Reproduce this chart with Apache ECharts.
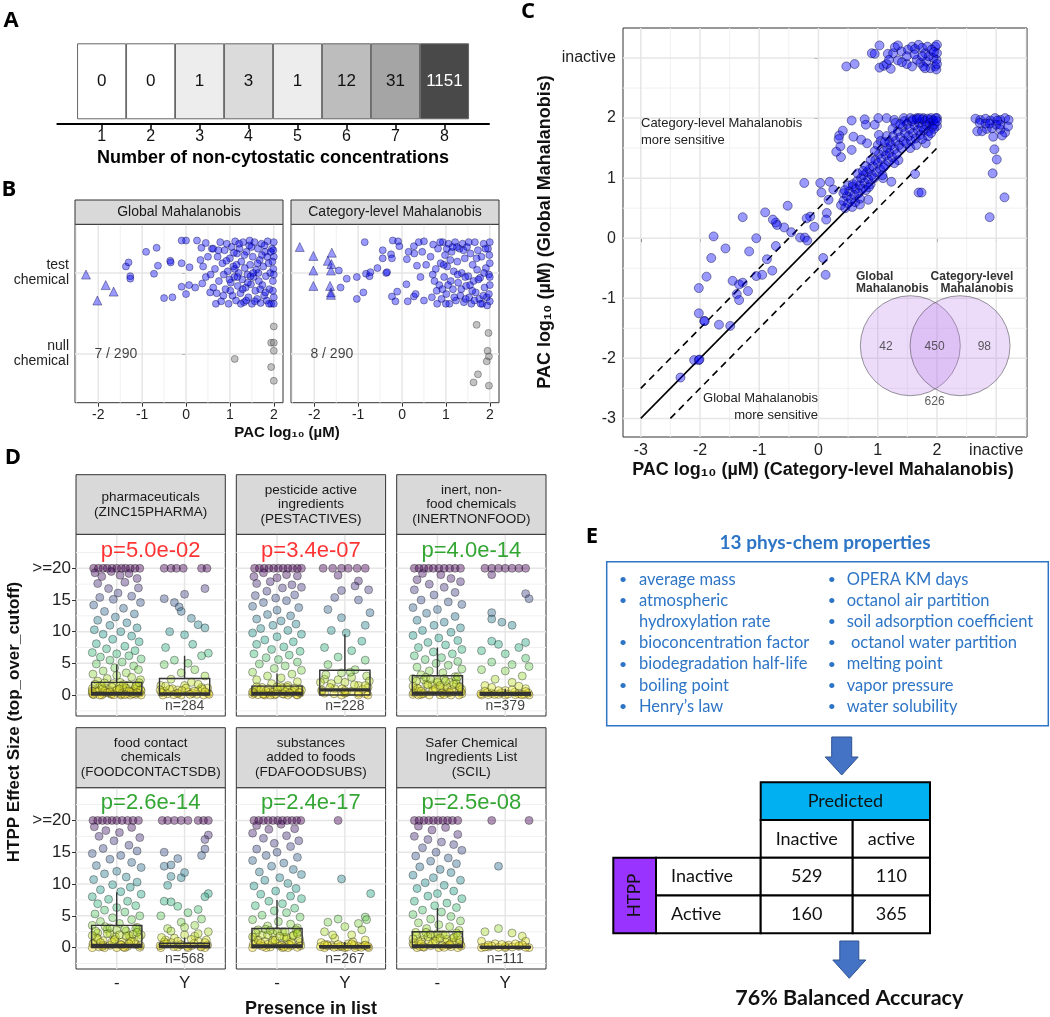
<!DOCTYPE html>
<html>
<head>
<meta charset="utf-8">
<script src="https://cdn.jsdelivr.net/npm/echarts@6/dist/echarts.min.js"></script>
<style>
  html, body { margin: 0; padding: 0; background: #fff; }
  #chart { width: 1050px; height: 1017px; }
</style>
</head>
<body>
<div id="chart"></div>
<script>
const FONT = '"Liberation Sans", Arial, sans-serif';
const EFONT = 'Lato, "Open Sans", sans-serif';

// ---------- A: non-cytostatic concentrations
const concLevels = [1, 2, 3, 4, 5, 6, 7, 8];
const concCounts = [0, 0, 1, 3, 1, 12, 31, 1151];

// ---------- B: PAC of test vs null chemicals
const bFacets = ['Global Mahalanobis', 'Category-level Mahalanobis'];
const bNullText = ['7 / 290', '8 / 290'];
const bGlobalTri = [-2.28,1.98, -1.83,1.85, -1.65,1.77, -2.02,1.66];
const bGlobalSparse = [-1.37,2.08, -1.31,2.13, -1.27,1.96, -1.27,1.93, -0.91,2.26, -0.67,2.31, -0.73,1.99, -0.64,2.09,
  -0.36,2.15, -0.35,2.13, -0.50,1.69, -0.31,1.70, -0.10,2.40, 0.00,2.40, -0.10,2.12, 0.08,2.07, -0.10,1.83, 0.07,1.85,
  0.00,1.74, 0.25,2.40, 0.35,2.31, 0.39,2.08, 0.37,1.87, 0.21,1.82, 0.45,2.37, 0.33,2.16, 0.55,1.76, 0.59,2.30,
  0.50,2.20, 0.45,1.95, 0.56,1.98, 0.62,1.82];
const bGlobalDense = [0.62,2.3, 0.66,2.05, 0.7,1.75, 0.72,2.2, 0.75,1.9, 0.78,2.38, 0.8,1.65, 0.83,2.12, 0.86,1.98,
  0.88,2.28, 0.9,1.8, 0.93,2.36, 0.95,2.02, 0.97,1.62, 1.0,2.18, 1.02,1.88, 1.04,2.32, 1.06,1.72, 1.08,2.08, 1.1,1.95,
  1.12,2.39, 1.14,1.66, 1.16,2.24, 1.18,1.84, 1.2,2.0, 1.22,2.3, 1.24,1.75, 1.26,2.14, 1.28,1.92, 1.3,2.38, 1.32,1.64,
  1.34,2.06, 1.36,1.82, 1.38,2.26, 1.4,1.98, 1.42,1.7, 1.44,2.34, 1.46,2.1, 1.48,1.86, 1.5,1.62, 1.52,2.2, 1.54,1.95,
  1.56,2.38, 1.58,1.78, 1.6,2.04, 1.62,1.68, 1.64,2.3, 1.66,1.9, 1.68,2.16, 1.7,1.63, 1.72,2.36, 1.74,1.85, 1.76,2.08,
  1.78,1.72, 1.8,2.26, 1.82,1.96, 1.84,1.66, 1.86,2.39, 1.88,2.12, 1.9,1.8, 1.92,2.0, 1.94,1.62, 1.96,2.3, 1.98,1.9,
  2.0,2.2, 2.0,1.7, 1.99,2.05, 2.0,2.38, 1.98,1.78, 2.0,1.98, 1.99,2.28, 2.0,1.62, 1.97,2.14,
  0.68,1.62, 0.74,2.28, 0.85,1.72, 0.92,2.15, 1.01,1.78, 1.09,2.25, 1.17,1.95, 1.25,1.62, 1.33,2.22, 1.41,1.88,
  1.49,2.32, 1.57,1.65, 1.65,2.0, 1.73,2.22, 1.81,1.76, 1.89,1.62, 1.11,2.05, 1.29,1.8, 1.47,1.96, 1.63,2.12,
  1.79,2.34, 0.99,1.92, 1.21,2.36, 1.37,1.66, 1.53,2.0, 1.69,1.8, 1.85,2.2, 1.93,2.26, 1.45,2.4, 1.15,2.1];
const bGlobalNull = [2.0,1.34, 1.94,1.14, 2.0,1.14, 2.0,1.04, 1.11,0.94, 1.94,0.84, 2.0,0.67];
const bCatTri = [-2.33,2.32, -2.02,2.21, -1.60,2.25, -1.69,2.15, -1.61,2.11, -2.02,2.03, -1.62,2.03, -2.02,1.84,
  -1.64,1.84, -1.62,1.76, -1.62,1.73];
const bCatSparse = [-1.44,2.03, -1.40,1.82, -1.26,1.93, -1.03,1.95, -1.03,1.68, -0.88,1.76, -0.85,2.38, -0.82,1.99,
  -0.74,1.96, -0.72,2.01, -0.56,2.06, -0.44,2.28, -0.44,2.18, -0.36,2.00, -0.34,2.01, -0.25,2.23, -0.23,2.18,
  -0.23,1.71, -0.15,1.65, -0.11,1.77, -0.21,2.40, -0.09,2.39, -0.06,2.33, 0.10,1.86, 0.11,2.17, 0.15,2.26, 0.27,2.33,
  0.28,2.24, 0.27,1.71, 0.31,1.74, 0.34,2.09, 0.38,2.38, 0.46,2.26, 0.50,2.39, 0.13,1.65, 0.50,1.66, 0.42,1.95, 0.55,2.1];
const bCatDense = [0.65,2.2, 0.68,1.7, 0.71,2.35, 0.74,1.9, 0.77,2.05, 0.8,1.62, 0.82,2.3, 0.85,1.85, 0.88,2.12,
  0.9,1.68, 0.93,2.38, 0.96,1.95, 0.98,2.22, 1.01,1.74, 1.03,2.08, 1.06,2.36, 1.08,1.62, 1.11,1.9, 1.13,2.26, 1.16,1.8,
  1.18,2.02, 1.21,2.38, 1.23,1.66, 1.26,2.14, 1.28,1.88, 1.31,2.3, 1.33,1.72, 1.36,2.0, 1.38,2.36, 1.41,1.64, 1.43,2.18,
  1.46,1.84, 1.48,2.32, 1.51,1.96, 1.53,1.7, 1.56,2.24, 1.58,1.62, 1.61,2.1, 1.63,1.9, 1.66,2.38, 1.68,1.76, 1.71,2.04,
  1.73,2.28, 1.76,1.68, 1.78,1.94, 1.81,2.2, 1.83,1.62, 1.86,2.36, 1.88,1.82, 1.91,2.06, 1.93,1.7, 1.96,2.3, 1.98,1.98,
  2.0,2.12, 2.0,1.65, 2.0,1.85, 2.0,2.38, 1.99,2.22, 1.98,1.74, 2.0,1.95,
  0.7,1.98, 0.79,1.78, 0.87,2.38, 0.95,2.1, 1.0,1.62, 1.1,2.16, 1.19,1.7, 1.27,1.98, 1.35,1.8, 1.44,1.95, 1.52,2.38,
  1.6,1.78, 1.7,2.18, 1.79,1.62, 1.87,2.0, 1.94,1.6, 1.05,1.85, 1.25,2.32, 1.4,2.28, 1.55,1.85, 1.74,1.92, 1.9,2.3,
  1.15,2.32, 1.45,1.68, 1.65,1.66, 1.85,1.72, 0.92,1.8, 1.02,2.3];
const bCatNull = [1.70,1.36, 1.97,1.26, 1.95,1.04, 1.98,0.97, 1.93,0.91, 1.73,0.75, 1.63,0.65, 1.98,0.61];

// ---------- C: PAC global vs category-level (3 = inactive)
const cInactiveRow = [0.47,2.86, 0.61,2.90, 0.90,3.08, 0.95,3.07, 1.03,3.21, 1.03,2.84, 1.10,2.87, 1.15,2.90, 1.22,2.82,
  1.17,3.07, 1.26,3.08, 1.29,3.18, 1.34,3.21, 1.40,3.11, 1.34,2.96, 1.41,2.93, 1.49,2.90, 1.51,3.14, 1.58,3.19, 1.63,3.15,
  1.69,3.22, 1.75,3.17, 1.80,3.08, 1.84,3.19, 1.66,2.97, 1.72,2.92, 1.77,2.86, 1.82,2.94, 1.89,2.83, 1.97,2.86, 1.99,2.97,
  2.0,3.08, 1.97,3.19, 2.0,3.22, 1.94,3.0, 1.58,2.86, 1.49,3.03, 1.19,2.97, 1.86,3.03, 1.99,2.81, 1.91,3.14, 1.75,3.03,
  1.62,3.06, 1.80,2.83, 1.95,3.1, 2.0,2.9];
const cInactiveCol = [2.65,1.99, 2.73,1.97, 2.82,1.99, 2.90,1.96, 2.98,2.0, 3.07,1.97, 3.15,2.0, 3.21,1.97, 2.68,1.78,
  2.76,1.78, 2.84,1.82, 2.93,1.83, 3.0,1.89, 3.07,1.81, 3.15,1.76, 2.95,1.69, 3.10,1.71, 2.82,1.91, 3.07,1.89, 3.2,1.86,
  2.97,1.48, 3.01,1.31, 2.94,1.08, 3.14,0.68, 2.89,0.35, 2.72,1.92, 3.02,1.96, 2.89,1.91];
const cSparse = [0.56,1.96, 0.78,1.98, 0.80,1.89, 0.59,1.69, 0.41,1.79, 0.35,1.71, 0.34,1.65, 0.37,1.53, 0.38,1.35,
  0.30,1.44, 0.56,1.47, 0.72,1.64, 0.82,1.58, 0.95,1.89, 1.01,2.0, 1.15,2.0, 1.28,1.97, 1.44,2.0, 1.55,2.0, 1.66,2.0,
  1.77,2.0, 1.89,1.97, 2.0,2.0, 2.0,1.87, 1.81,1.58, 1.63,1.07, 1.69,0.76, 1.74,0.76, 1.23,0.94, 1.09,1.0, 0.84,0.64,
  0.70,0.56, 0.58,0.86, 0.42,0.75, 0.25,0.81, 0.19,0.94, 0.03,0.92, 0.05,0.76, -0.24,0.92, 0.17,0.64, 0.14,0.42,
  0.13,0.31, -0.07,0.19, -0.14,0.36, -0.20,0.33, -0.31,0.01, -0.23,0.01, -0.19,-0.04, -0.46,0.10, -0.58,0.18,
  -0.52,0.54, -0.72,0.26, -0.70,0.22, -0.77,0.31, -0.90,0.43, -1.05,0.0, -1.28,0.35, -1.17,-0.22, -1.57,-0.17,
  -1.77,0.03, -1.81,-0.33, -0.72,-0.13, -0.87,-0.35, 0.08,-0.33, 0.12,-0.61, -1.89,-0.64, -2.02,-0.83, -1.45,-0.71,
  -1.34,-0.77, -1.28,-0.74, -1.38,-0.93, -1.34,-1.03, -1.19,-0.88, -1.05,-0.63, -0.95,-0.61, -0.78,-0.54,
  -2.02,-1.25, -1.92,-1.38, -1.93,-1.38, -1.68,-1.44, -1.49,-1.46, -2.10,-2.03, -2.02,-2.03, -2.01,-2.02, -2.33,-2.32];
const cDense = [0.38,0.55, 0.42,0.62, 0.45,0.5, 0.48,0.7, 0.5,0.58, 0.52,0.78, 0.55,0.65, 0.57,0.52, 0.6,0.72, 0.44,0.8,
  0.5,0.88, 0.58,0.9, 0.62,0.6, 0.63,0.82, 0.65,0.95, 0.68,0.75, 0.7,0.88, 0.72,1.0, 0.74,0.82, 0.76,1.05, 0.78,0.92,
  0.8,0.8, 0.82,1.1, 0.84,0.98, 0.86,1.15, 0.88,0.9, 0.9,1.05, 0.66,1.08, 0.7,0.66, 0.75,1.12, 0.8,1.2, 0.85,0.85,
  0.92,1.2, 0.94,1.0, 0.96,1.3, 0.98,1.1, 1.0,1.25, 1.02,1.4, 1.04,1.15, 1.06,1.32, 1.08,1.05, 1.1,1.45, 1.12,1.22,
  1.14,1.38, 1.16,1.5, 1.18,1.28, 1.2,1.42, 0.95,1.45, 1.0,1.55, 1.05,1.62, 1.1,1.18, 1.15,1.7, 1.2,1.6,
  1.22,1.55, 1.24,1.35, 1.26,1.7, 1.28,1.48, 1.3,1.62, 1.32,1.4, 1.34,1.78, 1.36,1.55, 1.38,1.68, 1.4,1.5, 1.42,1.85,
  1.44,1.62, 1.46,1.75, 1.48,1.58, 1.5,1.9, 1.25,1.82, 1.3,1.92, 1.35,1.3, 1.45,1.95, 1.28,1.25,
  1.52,1.7, 1.54,1.82, 1.56,1.62, 1.58,1.95, 1.6,1.75, 1.62,1.88, 1.64,1.66, 1.66,1.98, 1.68,1.8, 1.7,1.92, 1.72,1.72,
  1.74,1.85, 1.76,1.98, 1.78,1.8, 1.8,1.95, 1.55,1.5, 1.65,1.55, 1.75,1.65,
  1.82,1.88, 1.84,1.99, 1.86,1.78, 1.88,1.92, 1.9,2.0, 1.92,1.85, 1.94,1.96, 1.96,1.9, 1.98,2.0, 2.0,1.95, 1.85,1.7,
  1.95,1.82, 1.9,1.75, 1.12,1.6, 1.38,1.9, 1.6,1.98, 0.88,1.3, 1.02,1.72, 1.7,2.0];
const cRefOffsets = [0, 0.5, -0.5];
const cVennSets = ['Global\nMahalanobis', 'Category-level\nMahalanobis'];
const cVennCounts = [42, 450, 98, 626]; // only global, both, only category, neither

// ---------- D: HTPP effect size by presence in list
const dLists = [
  'pharmaceuticals\n(ZINC15PHARMA)', 'pesticide active\ningredients\n(PESTACTIVES)', 'inert, non-\nfood chemicals\n(INERTNONFOOD)',
  'food contact\nchemicals\n(FOODCONTACTSDB)', 'substances\nadded to foods\n(FDAFOODSUBS)', 'Safer Chemical\nIngredients List\n(SCIL)'];
const dPText = ['p=5.0e-02', 'p=3.4e-07', 'p=4.0e-14', 'p=2.6e-14', 'p=2.4e-17', 'p=2.5e-08'];
const dPColor = ['#ff0000', '#ff0000', '#009000', '#009000', '#009000', '#009000'];
const dNinList = [284, 228, 379, 568, 267, 111];
const dGroups = ['-', 'Y'];
// [lower whisker, q1, median, q3, upper whisker]
const dBoxMinus = [[0,0,0.25,2.0,4.8], [0,0,0.25,1.4,3.4], [0,0,0.3,3.05,7.5], [0,0,0.35,3.5,8.7], [0,0,0.3,3.0,7.5], [0,0,0.3,2.5,6.2]];
const dBoxY = [[0,0,0.2,2.6,6.2], [0,0,0.8,3.9,9.6], [0,0,0.15,0.4,1.0], [0,0,0.2,0.7,1.6], [0,0,0.1,0.3,0.9], [0,0,0.05,0.2,0.45]];
// jittered points: [offset from group, effect size]
const pharmaMinus = [-0.34,20, -0.27,20, -0.2,20, -0.14,20, -0.07,20, 0,20, 0.07,20, 0.13,20, 0.2,20, 0.27,20, 0.34,20,
  -0.32,19.3, -0.22,18.7, -0.08,19.5, 0.05,18.9, 0.18,19.2, 0.3,18.4, -0.28,17.6, 0.12,17.8, 0.32,16.9,
  -0.12,16.8, 0.02,16.1, -0.25,15.4, 0.22,15.6, -0.05,15.1, 0.35,14.6, -0.34,14.2, 0.1,13.7, -0.18,13.2, 0.26,12.8,
  -0.02,12.3, -0.28,11.8, 0.15,11.4, -0.1,11.0, 0.3,10.6, -0.33,10.3, 0.06,10.0, -0.2,9.6, 0.22,9.3, -0.06,8.8,
  0.33,8.4, -0.3,8.1, 0.12,7.7, -0.15,7.3, 0.27,7.0, -0.36,6.7, 0.0,6.5, 0.18,6.2, -0.24,6.0, 0.36,5.7,
  -0.1,5.5, 0.08,5.2, -0.3,4.9, 0.25,4.6, -0.03,4.3, 0.32,4.0, -0.2,3.8, 0.14,3.5, -0.35,3.3, 0.0,3.1,
  0.22,2.8, -0.14,2.6, 0.35,2.4, -0.28,2.2, 0.05,2.0, -0.05,1.8, 0.18,1.6, -0.22,1.4, 0.3,1.2, -0.36,1.0,
  0.1,0.9, -0.12,0.7, 0.24,0.6, -0.3,0.5, 0.0,0.4, 0.34,0.3, -0.2,0.25, 0.15,0.2, -0.08,0.1, 0.28,0.1, -0.34,0.05,
  0.06,0.0, -0.22,0.0, 0.2,0.0, 0.36,0.0, -0.3,0.8, -0.16,1.1, -0.02,0.6, 0.12,1.2, 0.26,0.9, -0.24,1.5, 0.04,1.4,
  0.3,1.6, -0.36,0.3, -0.08,0.2, 0.2,0.45, 0.36,0.7, -0.18,0.6, 0.08,0.3];
const pharmaMinusBand = [-0.35,0.15, -0.28,0.55, -0.21,0.95, -0.14,0.35, -0.07,1.25, 0.0,0.75, 0.07,0.15, 0.14,1.05,
  0.21,0.45, 0.28,1.35, 0.35,0.85, -0.32,1.7, -0.18,1.9, -0.04,0.05, 0.1,1.65, 0.24,0.2, 0.33,1.95, -0.25,0.0,
  -0.1,0.45, 0.04,0.95, 0.18,0.6, 0.3,0.35, -0.36,0.6, 0.12,0.05];
const pharmaY = [-0.3,20, -0.2,20, -0.12,20, -0.02,20, 0.25,20, 0.33,20, 0.3,16.8, -0.3,15.2, -0.15,14.6, -0.08,13.9,
  0.0,15.9, 0.1,12.1, -0.05,13.2, 0.2,11.1, 0.3,10.6, -0.22,10.0, 0.0,9.5, 0.12,8.0, -0.28,7.5, 0.35,6.6, 0.25,6.2,
  -0.15,5.5, 0.05,5.0, -0.3,4.8, 0.15,4.0, -0.05,3.5, 0.3,3.0, -0.2,2.5, 0.1,2.0, -0.35,1.5, 0.25,1.2, -0.1,0.8,
  0.05,0.5, 0.35,0.3, -0.25,0.2, 0.18,0.1, -0.05,0.0, 0.28,0.0, -0.32,0.0, -0.18,1.0, 0.0,1.5, 0.2,0.7, -0.3,0.6,
  0.12,0.3, 0.34,1.1, -0.1,0.2];
const pharmaYBand = [-0.34,0.4, -0.22,0.9, -0.1,0.3, 0.02,1.1, 0.14,0.6, 0.26,0.95, 0.36,0.1, -0.28,1.4, -0.04,0.7,
  0.2,1.7, 0.08,0.1, -0.16,0.05, 0.3,0.5, -0.36,0.8];
const pestMinus = [-0.33,20, -0.26,20, -0.19,20, -0.12,20, -0.05,20, 0.02,20, 0.09,20, 0.16,20, 0.23,20, 0.3,20, 0.36,20,
  -0.34,18.7, -0.2,19.3, 0.0,18.5, 0.14,19.0, 0.3,18.8, -0.3,17.6, -0.1,17.9, 0.22,17.4, 0.36,17.0, -0.15,16.4, 0.08,16.9,
  -0.32,15.7, -0.02,15.3, 0.26,15.8, -0.2,14.6, 0.14,14.9, -0.36,14.0, 0.32,13.8, 0.0,13.4, -0.14,12.7, 0.2,12.5,
  -0.3,12.0, 0.06,11.7, -0.06,11.0, 0.28,11.2, -0.24,10.5, 0.16,10.2, -0.36,9.8, 0.36,9.6, 0.0,9.2, -0.18,8.7,
  0.24,8.4, -0.3,8.0, 0.1,7.6, -0.08,7.2, 0.34,6.9, -0.34,6.5, 0.18,6.3, -0.16,5.9, 0.02,5.6, 0.3,5.2,
  -0.26,4.9, 0.12,4.6, -0.04,4.2, 0.36,3.9, -0.36,3.6, 0.22,3.3, -0.14,3.0, 0.06,2.7, -0.3,2.4, 0.3,2.1,
  -0.08,1.8, 0.16,1.5, -0.22,1.2, 0.34,1.0, 0.0,0.8, -0.34,0.6, 0.24,0.4, -0.12,0.3, 0.1,0.15, -0.28,0.05, 0.3,0.0,
  -0.04,0.0, 0.16,0.0, -0.18,0.0, -0.3,1.0, -0.1,0.5, 0.08,1.1, 0.26,0.7, -0.2,0.2, 0.34,0.3, 0.0,1.3, -0.36,0.1];
const pestMinusBand = [-0.34,0.3, -0.27,0.7, -0.2,0.1, -0.13,1.0, -0.06,0.45, 0.01,0.9, 0.08,0.2, 0.15,1.2, 0.22,0.6,
  0.29,0.05, 0.36,0.8, -0.3,1.3, -0.16,0.6, -0.02,0.15, 0.12,0.55, 0.26,1.1, -0.24,0.85, 0.05,1.35, 0.33,0.4, -0.1,0.0,
  0.19,0.3, -0.36,0.5];
const pestY = [-0.32,20, -0.18,20, -0.05,20, 0.05,20, 0.18,20, 0.3,20, -0.1,18.9, 0.2,18.0, 0.15,17.2, -0.05,16.5,
  0.35,16.6, -0.15,15.4, 0.2,15.0, -0.25,13.5, 0.37,13.0, -0.05,12.2, 0.3,11.0, -0.2,10.2, 0.02,9.8, 0.25,8.5,
  -0.3,7.5, 0.1,7.0, -0.1,6.0, 0.3,5.5, -0.25,4.8, 0.15,4.0, -0.05,3.5, 0.32,3.0, -0.3,2.5, 0.0,2.0, 0.2,1.5,
  -0.15,1.0, 0.1,0.6, -0.3,0.3, 0.3,0.2, -0.05,0.0, 0.2,0.0, -0.2,1.8, 0.1,2.8, 0.34,1.2, -0.34,0.8, 0.0,0.3];
const pestYBand = [-0.34,0.6, -0.22,1.2, -0.1,2.4, 0.02,0.4, 0.14,1.6, 0.26,0.9, 0.36,2.2, -0.28,3.2, -0.04,1.0,
  0.2,0.3, 0.08,3.6, -0.16,0.2, 0.3,1.5, -0.36,2.0, 0.0,0.7, 0.34,0.0];
const inertMinus = [-0.34,20, -0.27,20, -0.2,20, -0.13,20, -0.06,20, 0.02,20, 0.1,20, 0.18,20, 0.26,20, 0.34,20,
  -0.22,19.2, 0.05,19.0, -0.3,18.2, 0.2,18.4, 0.34,17.9, -0.12,17.5, 0.1,17.0, -0.34,16.6, 0.26,16.2, -0.05,15.8,
  -0.24,15.0, 0.16,14.7, 0.36,14.3, -0.36,13.8, 0.0,13.5, -0.16,12.9, 0.26,12.4, -0.3,11.8, 0.1,11.5, -0.05,11.0,
  0.34,10.6, -0.22,10.2, 0.2,9.9, -0.36,9.4, 0.02,9.0, 0.3,8.6, -0.14,8.3, 0.12,7.9, -0.28,7.5, 0.36,7.2,
  -0.06,6.8, 0.22,6.5, -0.34,6.2, 0.06,5.9, -0.18,5.6, 0.3,5.3, -0.02,5.0, 0.16,4.7, -0.3,4.4, 0.36,4.1,
  -0.12,3.8, 0.08,3.5, -0.24,3.2, 0.26,2.9, -0.36,2.6, 0.0,2.3, 0.18,2.0, -0.16,1.7, 0.32,1.4, -0.3,1.1,
  0.1,0.9, -0.06,0.7, 0.24,0.5, -0.2,0.35, 0.36,0.2, -0.36,0.1, 0.04,0.05, 0.2,0.0, -0.12,0.0, -0.28,0.0, 0.32,0.0,
  -0.2,2.4, 0.05,1.2, 0.28,1.8, -0.32,0.7, 0.14,0.4, -0.08,1.6, 0.36,0.9, -0.24,0.1, 0.1,2.6];
const inertMinusBand = [-0.35,0.4, -0.28,1.0, -0.21,0.2, -0.14,1.6, -0.07,0.7, 0.0,2.0, 0.07,0.3, 0.14,1.3, 0.21,0.8,
  0.28,2.4, 0.35,0.5, -0.31,2.2, -0.17,2.8, -0.03,1.0, 0.1,0.05, 0.24,1.7, 0.33,1.2, -0.24,0.6, -0.1,2.5, 0.04,1.5,
  0.18,0.4, 0.3,2.9, -0.36,1.4, 0.12,2.2];
const inertY = [-0.3,20, -0.2,20, -0.1,20, 0.0,20, 0.1,20, 0.2,20, 0.3,20, -0.2,19.0, 0.3,16.0, 0.35,15.2,
  -0.2,13.0, -0.2,12.0, -0.05,11.5, 0.1,11.0, -0.2,8.5, -0.1,8.0, 0.3,8.3, 0.2,7.5, -0.35,7.0, 0.0,6.5, 0.3,5.8,
  -0.2,5.2, 0.1,4.8, 0.35,4.5, -0.35,4.0, 0.0,3.8, 0.25,3.0, -0.15,2.5, 0.1,2.0, -0.3,1.5, 0.3,1.0, 0.0,0.7,
  -0.2,0.3, 0.2,0.2, -0.35,0.0, 0.0,0.0, 0.35,0.0, -0.1,0.1, 0.15,0.05, -0.25,0.05, 0.28,0.1];
const inertYBand = [-0.36,0.2, -0.26,0.4, -0.16,0.1, -0.06,0.35, 0.04,0.15, 0.14,0.45, 0.24,0.05, 0.34,0.3, -0.3,0.6,
  -0.1,0.7, 0.1,0.8, 0.3,0.55, 0.2,1.4, -0.2,1.2];
const foodMinus = [-0.35,20, -0.28,20, -0.21,20, -0.14,20, -0.07,20, 0.0,20, 0.08,20, 0.16,20, 0.24,20, 0.32,20,
  -0.33,19.0, -0.16,18.4, 0.04,18.1, 0.22,18.9, 0.34,17.3, -0.26,17.5, -0.04,16.8, 0.18,16.1, -0.2,15.6, 0.3,15.2,
  -0.36,14.8, 0.06,14.5, -0.1,13.9, 0.22,13.4, -0.3,12.9, 0.36,12.6, 0.0,12.0, -0.18,11.6, 0.14,11.1, -0.34,10.7,
  0.3,10.3, -0.06,9.9, 0.2,9.5, -0.24,9.1, 0.06,8.8, 0.36,8.4, -0.36,8.0, -0.12,7.6, 0.16,7.3, -0.28,6.9,
  0.28,6.6, 0.0,6.3, -0.18,5.9, 0.12,5.6, -0.32,5.3, 0.34,5.0, -0.06,4.7, 0.22,4.4, -0.24,4.1, 0.04,3.8,
  -0.36,3.5, 0.3,3.2, -0.14,2.9, 0.14,2.6, -0.28,2.3, 0.36,2.0, -0.02,1.7, 0.2,1.4, -0.2,1.1, 0.08,0.9,
  -0.34,0.7, 0.28,0.5, -0.1,0.35, 0.16,0.2, -0.26,0.1, 0.34,0.05, 0.0,0.0, -0.18,0.0, 0.12,0.0, -0.36,0.0,
  -0.1,2.2, 0.26,1.0, -0.3,1.6, 0.06,0.5, 0.32,2.8, -0.2,0.4, 0.18,1.9, -0.04,1.1];
const foodMinusBand = [-0.35,0.6, -0.28,1.4, -0.21,0.2, -0.14,2.2, -0.07,0.9, 0.0,2.8, 0.07,0.4, 0.14,1.8, 0.21,1.0,
  0.28,3.0, 0.35,0.3, -0.31,2.6, -0.17,3.3, -0.03,1.3, 0.1,0.1, 0.24,2.1, 0.33,1.6, -0.24,0.8, -0.1,3.1, 0.04,2.0,
  0.18,0.6, 0.3,2.4, -0.36,1.9, 0.12,2.9];
const foodY = [-0.33,20, -0.25,20, -0.15,20, -0.05,20, 0.05,20, 0.2,20, 0.28,20, 0.35,20, 0.35,17.7, 0.3,17.0,
  -0.3,15.0, 0.3,15.5, 0.25,14.5, -0.1,14.0, -0.3,12.8, -0.2,13.0, -0.05,11.0, 0.0,11.8, -0.2,11.2, -0.25,9.8,
  0.35,8.5, 0.3,8.0, -0.3,7.3, -0.2,7.2, -0.1,6.5, 0.2,6.0, 0.05,5.5, -0.35,5.0, 0.25,4.5, -0.05,4.0, 0.15,3.5,
  -0.25,3.0, 0.35,2.5, 0.0,2.0, -0.15,1.5, 0.2,1.0, -0.3,0.6, 0.1,0.3, -0.1,0.1, 0.3,0.0, -0.35,0.0, 0.05,0.0,
  -0.2,0.8, 0.15,1.8, 0.32,1.2, -0.05,0.5, 0.24,0.2, -0.28,1.2];
const foodYBand = [-0.36,0.3, -0.26,0.6, -0.16,0.15, -0.06,0.45, 0.04,0.2, 0.14,0.65, 0.24,0.1, 0.34,0.4, -0.3,0.9,
  -0.1,1.0, 0.1,1.3, 0.3,0.8, 0.2,2.2, -0.2,2.6, 0.0,3.2, -0.34,1.6];
const fdaMinus = [-0.34,20, -0.27,20, -0.2,20, -0.13,20, -0.06,20, 0.01,20, 0.08,20, 0.15,20, 0.22,20, 0.29,20, 0.35,20,
  -0.3,19.2, -0.12,18.6, 0.06,19.4, 0.26,18.7, -0.36,18.0, 0.14,17.6, -0.2,17.2, 0.32,16.8, -0.04,16.4, 0.2,15.9,
  -0.3,15.5, 0.0,15.0, -0.16,14.5, 0.3,14.2, -0.36,13.7, 0.1,13.3, -0.08,12.8, 0.24,12.3, -0.26,11.9, 0.36,11.5,
  0.04,11.0, -0.18,10.6, 0.16,10.1, -0.34,9.7, 0.28,9.3, -0.02,8.9, -0.24,8.4, 0.2,8.1, 0.36,7.7, -0.12,7.3,
  0.08,6.9, -0.32,6.6, 0.26,6.2, -0.04,5.8, 0.14,5.5, -0.22,5.1, 0.34,4.8, -0.36,4.4, 0.02,4.1, 0.2,3.7,
  -0.14,3.4, 0.3,3.1, -0.28,2.8, 0.08,2.5, -0.06,2.2, 0.24,1.9, -0.34,1.6, 0.14,1.3, -0.18,1.0, 0.34,0.8,
  0.0,0.6, -0.26,0.4, 0.2,0.25, -0.1,0.1, 0.3,0.05, -0.36,0.0, 0.08,0.0, -0.16,0.0, 0.16,0.0,
  -0.22,2.0, 0.1,1.6, 0.3,2.4, -0.06,1.2, -0.32,0.8, 0.22,0.6, 0.04,0.3, -0.14,0.5];
const fdaMinusBand = [-0.35,0.5, -0.28,1.2, -0.21,0.2, -0.14,2.0, -0.07,0.8, 0.0,2.6, 0.07,0.35, 0.14,1.6, 0.21,0.9,
  0.28,2.8, 0.35,0.3, -0.31,2.3, -0.17,2.9, -0.03,1.2, 0.1,0.1, 0.24,1.9, 0.33,1.4, -0.24,0.7, -0.1,2.7, 0.04,1.8,
  0.18,0.5, 0.3,2.2, -0.36,1.7, 0.12,2.5];
const fdaY = [-0.1,20, -0.05,10.8, 0.38,8.5, 0.3,4.8, -0.1,4.5, -0.25,4.0, 0.2,3.8, 0.0,3.3, -0.3,2.5, 0.1,2.0, 0.25,2.8,
  -0.15,1.5, 0.3,1.2, -0.35,0.8, 0.05,0.6, -0.2,0.3, 0.2,0.2, -0.1,0.1, 0.35,0.0, -0.3,0.0, 0.0,0.0, 0.15,0.0,
  0.32,4.4, -0.18,2.0, 0.12,0.9, -0.26,0.5, 0.28,0.3, -0.04,0.15];
const fdaYBand = [-0.36,0.15, -0.26,0.3, -0.16,0.05, -0.06,0.25, 0.04,0.1, 0.14,0.35, 0.24,0.05, 0.34,0.2, -0.3,0.45,
  -0.1,0.5, 0.1,0.6, 0.3,0.4];
const scilMinus = [-0.34,20, -0.27,20, -0.2,20, -0.13,20, -0.06,20, 0.01,20, 0.08,20, 0.15,20, 0.22,20, 0.3,20,
  -0.28,19.1, -0.08,18.5, 0.12,18.9, 0.3,17.8, -0.34,17.5, -0.14,17.0, 0.06,16.6, 0.24,16.2, -0.22,15.7, 0.36,15.3,
  -0.02,15.0, -0.32,14.4, 0.16,14.1, -0.1,13.6, 0.28,13.2, -0.26,12.7, 0.04,12.3, 0.2,11.8, -0.36,11.4, -0.06,11.0,
  0.34,10.6, -0.18,10.2, 0.1,9.8, -0.3,9.3, 0.24,8.9, 0.0,8.5, -0.14,8.1, 0.36,7.7, -0.34,7.3, 0.14,7.0,
  -0.04,6.6, 0.28,6.3, -0.22,5.9, 0.06,5.6, -0.36,5.2, 0.2,4.9, -0.1,4.5, 0.34,4.2, -0.28,3.9, 0.02,3.6,
  0.18,3.3, -0.16,3.0, 0.32,2.7, -0.32,2.4, 0.08,2.1, -0.04,1.8, 0.24,1.5, -0.24,1.2, 0.12,0.9, -0.36,0.7,
  0.34,0.5, -0.1,0.3, 0.2,0.15, -0.2,0.05, 0.02,0.0, 0.3,0.0, -0.3,0.0, -0.12,1.0, 0.16,0.4, -0.26,0.2, 0.28,1.1,
  0.0,1.4, -0.2,2.0];
const scilMinusBand = [-0.35,0.4, -0.28,1.0, -0.21,0.15, -0.14,1.7, -0.07,0.7, 0.0,2.2, 0.07,0.3, 0.14,1.3, 0.21,0.8,
  0.28,2.3, 0.35,0.25, -0.31,1.9, -0.17,2.4, -0.03,1.0, 0.1,0.05, 0.24,1.6, 0.33,1.2, -0.24,0.6, -0.1,2.1, 0.04,1.5,
  0.18,0.45, 0.3,1.9, -0.36,1.4, 0.12,2.0];
const scilY = [-0.2,20, 0.35,20, -0.1,12.8, -0.3,2.5, -0.1,3.0, 0.1,2.3, 0.25,1.8, 0.3,1.0, -0.35,1.0, -0.15,0.6,
  0.05,0.4, 0.2,0.2, -0.25,0.1, 0.0,0.0, 0.35,0.0, -0.35,0.0];
const scilYBand = [-0.3,0.1, -0.2,0.25, -0.1,0.05, 0.0,0.2, 0.1,0.1, 0.2,0.3, 0.3,0.05, -0.05,0.5, 0.15,0.6, 0.25,0.45, -0.25,0.4];
const dPoints = [
  [pharmaMinus.concat(pharmaMinusBand), pharmaY.concat(pharmaYBand)],
  [pestMinus.concat(pestMinusBand), pestY.concat(pestYBand)],
  [inertMinus.concat(inertMinusBand), inertY.concat(inertYBand)],
  [foodMinus.concat(foodMinusBand), foodY.concat(foodYBand)],
  [fdaMinus.concat(fdaMinusBand), fdaY.concat(fdaYBand)],
  [scilMinus.concat(scilMinusBand), scilY.concat(scilYBand)]];

// ---------- E: phys-chem model
const eLeftProps = ['average mass', 'atmospheric\nhydroxylation rate', 'bioconcentration factor', 'biodegradation half-life', 'boiling point', 'Henry’s law'];
const eRightProps = ['OPERA KM days', 'octanol air partition', 'soil adsorption coefficient', ' octanol water partition', 'melting point', 'vapor pressure', 'water solubility'];
const eClasses = ['Inactive', 'active'];
const eRowClasses = ['Inactive', 'Active'];
const eConfusion = [[529, 110], [160, 365]];
const eAccuracy = '76% Balanced Accuracy';

// ================= helpers
function pairs(flat) {
  const out = [];
  for (let i = 0; i < flat.length; i += 2) out.push([flat[i], flat[i + 1]]);
  return out;
}
function grayFor(n) {
  const g = Math.round(255 - 59.5 * Math.log10(n + 1));
  return 'rgb(' + g + ',' + g + ',' + g + ')';
}
// ggplot-like panel grid, drawn through the panel's own axes
function gridLines(gi, center, v, h, vMinor, hMinor) {
  return {
    type: 'custom', xAxisIndex: gi, yAxisIndex: gi, silent: true, z: 1, data: [center],
    renderItem: function (params, api) {
      const cs = params.coordSys;
      const kids = [];
      function add(vals, vertical, w, c) {
        vals.forEach(function (val) {
          if (vertical) {
            const x = api.coord([val, center[1]])[0];
            kids.push({ type: 'line', shape: { x1: x, y1: cs.y, x2: x, y2: cs.y + cs.height }, style: { stroke: c, lineWidth: w } });
          } else {
            const y = api.coord([center[0], val])[1];
            kids.push({ type: 'line', shape: { x1: cs.x, y1: y, x2: cs.x + cs.width, y2: y }, style: { stroke: c, lineWidth: w } });
          }
        });
      }
      add(vMinor, true, 1, '#f0f0f0');
      add(hMinor, false, 1, '#f0f0f0');
      add(v, true, 1.5, '#e6e6e6');
      add(h, false, 1.5, '#e6e6e6');
      return { type: 'group', children: kids };
    }
  };
}
function txt(x, y, text, size, opt) {
  opt = opt || {};
  return {
    type: 'text', x: x, y: y, rotation: opt.rotation || 0, z: 100, silent: true,
    style: {
      text: text, fontSize: size, fontFamily: opt.font || FONT, fontWeight: opt.bold ? 'bold' : 'normal',
      fill: opt.color || '#1a1a1a', align: opt.align || 'center', verticalAlign: opt.va || 'middle',
      lineHeight: opt.lineHeight || size * 1.15
    }
  };
}
function rect(x, y, w, h, fill, stroke, lw) {
  return { type: 'rect', z: 90, silent: true, shape: { x: x, y: y, width: w, height: h },
    style: { fill: fill, stroke: stroke, lineWidth: lw == null ? 1 : lw } };
}

// ================= layout
const grids = [];
const xAxes = [];
const yAxes = [];
const series = [];
const gfx = [];
const tickStyle = { show: true, length: 4, lineStyle: { color: '#333', width: 1 } };
const boxBorder = { show: true, borderColor: '#333', borderWidth: 1, backgroundColor: 'transparent' };

// ---- A
grids.push({ left: 57.3, top: 43.3, width: 431.7, height: 80.7, show: false });
xAxes.push({ gridIndex: 0, type: 'value', min: 0.094, max: 8.91,
  axisLine: { show: true, onZero: false, lineStyle: { color: '#000', width: 2 } },
  axisTick: { show: true, customValues: concLevels, length: 5, lineStyle: { color: '#000', width: 1.5 } },
  axisLabel: { customValues: concLevels, fontSize: 16, color: '#111', fontFamily: FONT, margin: 5 },
  splitLine: { show: false } });
yAxes.push({ gridIndex: 0, type: 'value', min: -0.062, max: 1, show: false });
series.push({
  type: 'bar', xAxisIndex: 0, yAxisIndex: 0, barWidth: 49.2, z: 3,
  data: concLevels.map(function (lv, i) {
    const n = concCounts[i];
    return { value: [lv, 1, n], label: { color: n > 100 ? '#fff' : '#111' } };
  }),
  itemStyle: { color: function (p) { return grayFor(p.value[2]); }, borderColor: '#666', borderWidth: 1 },
  label: { show: true, position: 'inside', fontSize: 17, fontFamily: FONT, formatter: function (p) { return p.value[2]; } }
});

// ---- B
const bLeft = [75, 291];
const bSets = [
  { tri: bGlobalTri, sparse: bGlobalSparse, dense: bGlobalDense, nul: bGlobalNull },
  { tri: bCatTri, sparse: bCatSparse, dense: bCatDense, nul: bCatNull }
];
bSets.forEach(function (s, k) {
  const gi = grids.length;
  grids.push(Object.assign({ left: bLeft[k], top: 224.3, width: 208, height: 178.4 }, boxBorder));
  xAxes.push({ gridIndex: gi, type: 'value', min: -2.53, max: 2.21, axisLine: { show: false },
    axisTick: Object.assign({ customValues: [-2, -1, 0, 1, 2] }, tickStyle),
    axisLabel: { customValues: [-2, -1, 0, 1, 2], fontSize: 14, color: '#222', fontFamily: FONT, margin: 5 },
    splitLine: { show: false } });
  yAxes.push({ gridIndex: gi, type: 'value', min: 0.4, max: 2.6, axisLine: { show: false },
    axisTick: Object.assign({ customValues: [1, 2] }, tickStyle, { show: k === 0 }),
    axisLabel: { show: k === 0, customValues: [1, 2], fontSize: 14, color: '#222', fontFamily: FONT, margin: 6, lineHeight: 15,
      formatter: function (v) { return v === 2 ? 'test\nchemical' : 'null\nchemical'; } },
    splitLine: { show: false } });
  series.push(gridLines(gi, [0, 1.5], [-2, -1, 0, 1, 2], [1, 2], [-2.5, -1.5, -0.5, 0.5, 1.5], []));
  series.push({ type: 'scatter', xAxisIndex: gi, yAxisIndex: gi, z: 3, symbolSize: 7, data: pairs(s.nul),
    itemStyle: { color: 'rgba(128,128,128,0.6)', borderColor: 'rgba(40,40,40,0.7)', borderWidth: 0.7 } });
  series.push({ type: 'scatter', xAxisIndex: gi, yAxisIndex: gi, z: 3, symbolSize: 7, data: pairs(s.sparse.concat(s.dense)),
    itemStyle: { color: 'rgba(0,0,255,0.5)', borderColor: 'rgba(0,0,60,0.7)', borderWidth: 0.7 } });
  series.push({ type: 'scatter', xAxisIndex: gi, yAxisIndex: gi, z: 3, symbol: 'triangle', symbolSize: 9, data: pairs(s.tri),
    itemStyle: { color: 'rgba(0,0,255,0.5)', borderColor: 'rgba(0,0,60,0.7)', borderWidth: 0.7 } });
  series.push({ type: 'scatter', xAxisIndex: gi, yAxisIndex: gi, z: 4, symbolSize: 1, data: [[-1.6, 1, bNullText[k]]],
    itemStyle: { color: 'transparent' },
    label: { show: true, position: 'inside', fontSize: 14, fontFamily: FONT, color: '#111', formatter: function (p) { return p.value[2]; } } });
  gfx.push(rect(bLeft[k], 200, 208, 24.3, '#d9d9d9', '#333', 1));
  gfx.push(txt(bLeft[k] + 104, 212.5, bFacets[k], 14));
});

// ---- C
const gC = grids.length;
grids.push(Object.assign({ left: 623, top: 28, width: 404, height: 409 }, boxBorder));
const cTicks = [-3, -2, -1, 0, 1, 2, 3];
const cFmt = function (v) { return v === 3 ? 'inactive' : String(v); };
xAxes.push({ gridIndex: gC, type: 'value', min: -3.3, max: 3.52, axisLine: { show: false },
  axisTick: Object.assign({ customValues: cTicks }, tickStyle),
  axisLabel: { customValues: cTicks, formatter: cFmt, fontSize: 16, color: '#222', fontFamily: FONT, margin: 6 },
  splitLine: { show: false } });
yAxes.push({ gridIndex: gC, type: 'value', min: -3.31, max: 3.5, axisLine: { show: false },
  axisTick: Object.assign({ customValues: cTicks }, tickStyle),
  axisLabel: { customValues: cTicks, formatter: cFmt, fontSize: 16, color: '#222', fontFamily: FONT, margin: 7 },
  splitLine: { show: false } });
series.push(gridLines(gC, [0, 0], cTicks, cTicks, [-2.5, -1.5, -0.5, 0.5, 1.5, 2.5, 3.5], [-2.5, -1.5, -0.5, 0.5, 1.5, 2.5]));
cRefOffsets.forEach(function (off) {
  const x0 = Math.max(-3, -3 - off), x1 = Math.min(2, 2 - off);
  series.push({ type: 'line', xAxisIndex: gC, yAxisIndex: gC, z: 2, symbol: 'none', silent: true,
    data: [[x0, x0 + off], [x1, x1 + off]],
    lineStyle: { color: '#000', width: 1.6, type: off === 0 ? 'solid' : [7, 5] } });
});
series.push({ type: 'scatter', xAxisIndex: gC, yAxisIndex: gC, z: 3, symbolSize: 9,
  data: pairs(cSparse.concat(cDense, cInactiveRow, cInactiveCol)),
  itemStyle: { color: 'rgba(0,0,255,0.5)', borderColor: 'rgba(0,0,60,0.7)', borderWidth: 0.8 } });
// venn inset
series.push({ type: 'scatter', xAxisIndex: gC, yAxisIndex: gC, z: 4, symbolSize: 100, silent: true,
  data: [[1.55, -1.79], [2.39, -1.79]],
  itemStyle: { color: 'rgba(190,130,235,0.36)', borderColor: 'rgba(60,60,60,0.8)', borderWidth: 0.8 } });
series.push({ type: 'scatter', xAxisIndex: gC, yAxisIndex: gC, z: 5, symbolSize: 1, silent: true,
  data: [[1.14, -1.80, cVennCounts[0]], [1.96, -1.80, cVennCounts[1]], [2.80, -1.80, cVennCounts[2]], [1.96, -2.72, cVennCounts[3]]],
  itemStyle: { color: 'transparent' },
  label: { show: true, position: 'inside', fontSize: 12, fontFamily: FONT, color: '#333', formatter: function (p) { return p.value[2]; } } });
gfx.push(txt(856, 282.5, cVennSets[0], 12, { align: 'left', bold: true, color: '#333', lineHeight: 12 }));
gfx.push(txt(1013.3, 282.5, cVennSets[1], 12, { align: 'right', bold: true, color: '#333', lineHeight: 12 }));
gfx.push(txt(641, 132, 'Category-level Mahalanobis\nmore sensitive', 13, { align: 'left', color: '#222', lineHeight: 17 }));
gfx.push(txt(818, 406.5, 'Global Mahalanobis\nmore sensitive', 13, { align: 'right', color: '#222', lineHeight: 17 }));

// ---- D
const dCols = [76, 236.3, 396.7];
const dRows = [{ top: 534.3, h: 181.7, min: -3.31, max: 25.37, strip: 474.7 }, { top: 787.7, h: 181.3, min: -3.36, max: 25.15, strip: 727.7 }];
const dTicks = [0, 5, 10, 15, 20];
const dScatterIdx = [];
dLists.forEach(function (name, i) {
  const r = dRows[Math.floor(i / 3)], c = i % 3, bottom = i >= 3;
  const gi = grids.length;
  grids.push(Object.assign({ left: dCols[c], top: r.top, width: 149.3, height: r.h }, boxBorder));
  xAxes.push({ gridIndex: gi, type: 'value', min: 0.4, max: 2.6, axisLine: { show: false },
    axisTick: Object.assign({ customValues: [1, 2] }, tickStyle, { show: bottom }),
    axisLabel: { show: bottom, customValues: [1, 2], fontSize: 17, color: '#222', fontFamily: FONT, margin: 6,
      formatter: function (v) { return dGroups[v - 1]; } },
    splitLine: { show: false } });
  yAxes.push({ gridIndex: gi, type: 'value', min: r.min, max: r.max, axisLine: { show: false },
    axisTick: Object.assign({ customValues: dTicks }, tickStyle, { show: c === 0 }),
    axisLabel: { show: c === 0, customValues: dTicks, fontSize: 17, color: '#222', fontFamily: FONT, margin: 5,
      formatter: function (v) { return v === 20 ? '>=20' : String(v); } },
    splitLine: { show: false } });
  series.push(gridLines(gi, [1.5, 10], [1, 2], dTicks, [], [-2.5, 2.5, 7.5, 12.5, 17.5, 22.5]));
  dPoints[i].forEach(function (flat, g) {
    dScatterIdx.push(series.length);
    series.push({ type: 'scatter', xAxisIndex: gi, yAxisIndex: gi, z: 3, symbolSize: 8,
      data: pairs(flat).map(function (p) { return [g + 1 + p[0], p[1]]; }),
      itemStyle: { opacity: 0.42, borderColor: '#1a1a1a', borderWidth: 0.9 } });
  });
  series.push({ type: 'custom', xAxisIndex: gi, yAxisIndex: gi, z: 4, silent: true,
    data: [[1].concat(dBoxMinus[i]), [2].concat(dBoxY[i])],
    renderItem: function (params, api) {
      const xc = api.value(0);
      const lo = api.coord([xc - 0.37, api.value(2)]);
      const hi = api.coord([xc + 0.37, api.value(4)]);
      const md = api.coord([xc, api.value(3)]);
      const wTop = api.coord([xc, api.value(5)]);
      const wBot = api.coord([xc, api.value(1)]);
      const st = { stroke: '#333', lineWidth: 1.4, fill: null };
      return { type: 'group', children: [
        { type: 'line', shape: { x1: md[0], y1: hi[1], x2: md[0], y2: wTop[1] }, style: st },
        { type: 'line', shape: { x1: md[0], y1: lo[1], x2: md[0], y2: wBot[1] }, style: st },
        { type: 'rect', shape: { x: lo[0], y: hi[1], width: hi[0] - lo[0], height: Math.max(lo[1] - hi[1], 0.5) }, style: st },
        { type: 'line', shape: { x1: lo[0], y1: md[1], x2: hi[0], y2: md[1] }, style: { stroke: '#333', lineWidth: 3.2 } }
      ] };
    } });
  series.push({ type: 'scatter', xAxisIndex: gi, yAxisIndex: gi, z: 5, symbolSize: 1, silent: true,
    data: [{ value: [1.5, 22.8, dPText[i]], label: { color: dPColor[i] } }, { value: [2, -1.75, 'n=' + dNinList[i]], label: { fontSize: 14, color: '#111' } }],
    itemStyle: { color: 'transparent' },
    label: { show: true, position: 'inside', fontSize: 22, fontFamily: FONT, formatter: function (p) { return p.value[2]; } } });
  gfx.push(rect(dCols[c], r.strip, 149.3, r.top - r.strip, '#d9d9d9', '#333', 1));
  gfx.push(txt(dCols[c] + 74.65, (r.strip + r.top) / 2, name, 13.5, { lineHeight: 14.7 }));
});

// ---- axis titles and panel letters
gfx.push(txt(273, 158, 'Number of non-cytostatic concentrations', 18, { bold: true, color: '#000' }));
gfx.push(txt(287, 433, 'PAC log₁₀ (µM)', 15, { bold: true, color: '#111' }));
gfx.push(txt(823, 470, 'PAC log₁₀ (µM) (Category-level Mahalanobis)', 18, { bold: true, color: '#111' }));
gfx.push(txt(545, 232, 'PAC log₁₀ (µM) (Global Mahalanobis)', 18, { bold: true, color: '#111', rotation: Math.PI / 2 }));
gfx.push(txt(14, 722, 'HTPP Effect Size (top_over_cutoff)', 17, { bold: true, color: '#111', rotation: Math.PI / 2 }));
gfx.push(txt(311, 1009, 'Presence in list', 18, { bold: true, color: '#111' }));
[['A', 11, 21], ['B', 9, 190], ['C', 528, 12], ['D', 13, 458], ['E', 592, 537]].forEach(function (l) {
  gfx.push(txt(l[1], l[2], l[0], 22, { bold: true, color: '#000', font: '"Open Sans", Arial, sans-serif' }));
});

// ---- E diagram
const eBlue = '#2e75c6';
gfx.push(txt(825, 543, '13 phys-chem properties', 19, { bold: true, color: eBlue, font: EFONT }));
gfx.push(rect(606.7, 561.7, 441.6, 164, '#fff', eBlue, 1.5));
let eRow = 0;
eLeftProps.forEach(function (p) {
  const y = 579.3 + eRow * 21.2;
  gfx.push(txt(623, y, '•', 14, { color: eBlue, font: EFONT }));
  gfx.push(txt(639, y - 10.6, p, 16.5, { align: 'left', va: 'top', color: eBlue, font: EFONT, lineHeight: 21.2 }));
  eRow += p.split('\n').length;
});
eRightProps.forEach(function (p, i) {
  const y = 579.3 + i * 21.2;
  gfx.push(txt(831.7, y, '•', 14, { color: eBlue, font: EFONT }));
  gfx.push(txt(846.7, y, p, 16.5, { align: 'left', color: eBlue, font: EFONT }));
});
function downArrow(cx, y0, yHead, yTip, shaftW, headW) {
  return { type: 'polygon', z: 90, silent: true,
    shape: { points: [[cx - shaftW / 2, y0], [cx + shaftW / 2, y0], [cx + shaftW / 2, yHead], [cx + headW / 2, yHead], [cx, yTip],
      [cx - headW / 2, yHead], [cx - shaftW / 2, yHead]] },
    style: { fill: '#4472c4', stroke: '#2f528f', lineWidth: 1 } };
}
gfx.push(downArrow(841.7, 737, 757, 775, 20, 33));
gfx.push(downArrow(849.3, 941, 960, 978.3, 19, 33));
const tX = [613.3, 656, 760.7, 852.7, 930];
const tY = [782.3, 820, 857.7, 895.5, 933.3];
gfx.push(rect(tX[2], tY[0], tX[4] - tX[2], tY[1] - tY[0], '#00b0f0', '#000', 2));
gfx.push(txt((tX[2] + tX[4]) / 2, (tY[0] + tY[1]) / 2, 'Predicted', 18, { font: EFONT, color: '#111' }));
eClasses.forEach(function (cl, j) {
  gfx.push(rect(tX[2 + j], tY[1], tX[3 + j] - tX[2 + j], tY[2] - tY[1], '#fff', '#000', 2));
  gfx.push(txt((tX[2 + j] + tX[3 + j]) / 2, (tY[1] + tY[2]) / 2, cl, 18, { font: EFONT, color: '#111' }));
});
gfx.push(rect(tX[0], tY[2], tX[1] - tX[0], tY[4] - tY[2], '#9933ff', '#000', 2));
gfx.push(txt((tX[0] + tX[1]) / 2, (tY[2] + tY[4]) / 2, 'HTPP', 17, { font: EFONT, color: '#111', rotation: Math.PI / 2 }));
eRowClasses.forEach(function (rc, i) {
  const ya = tY[2 + i], yb = tY[3 + i];
  gfx.push(rect(tX[1], ya, tX[2] - tX[1], yb - ya, '#fff', '#000', 2));
  gfx.push(txt(671, (ya + yb) / 2, rc, 18, { align: 'left', font: EFONT, color: '#111' }));
  eConfusion[i].forEach(function (n, j) {
    gfx.push(rect(tX[2 + j], ya, tX[3 + j] - tX[2 + j], yb - ya, '#fff', '#000', 2));
    gfx.push(txt((tX[2 + j] + tX[3 + j]) / 2, (ya + yb) / 2, String(n), 18, { font: EFONT, color: '#111' }));
  });
});
gfx.push(txt(849.3, 998.5, eAccuracy, 21.5, { bold: true, font: EFONT, color: '#111' }));

const chart = echarts.init(document.getElementById('chart'));
chart.setOption({
  animation: false,
  backgroundColor: '#fff',
  grid: grids,
  xAxis: xAxes,
  yAxis: yAxes,
  visualMap: [{
    type: 'continuous', show: false, dimension: 1, min: 0, max: 20, seriesIndex: dScatterIdx,
    inRange: { color: ['#fde725', '#b5de2b', '#6ece58', '#35b779', '#1f9e89', '#26828e', '#31688e', '#3e4989', '#482878', '#440154'] }
  }],
  series: series,
  graphic: { elements: gfx }
});
</script>
</body>
</html>
